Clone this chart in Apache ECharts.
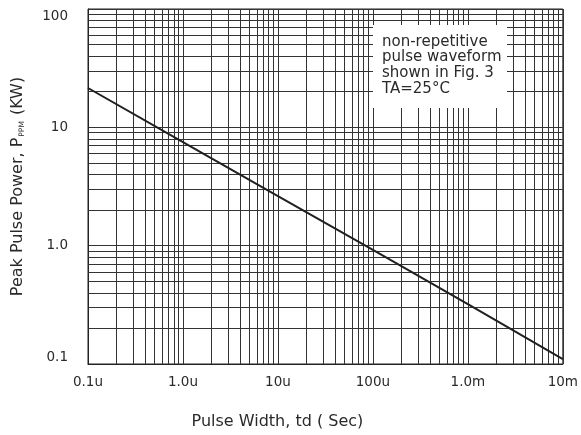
<!DOCTYPE html>
<html>
<head>
<meta charset="utf-8">
<script src="https://cdn.jsdelivr.net/npm/echarts@6/dist/echarts.min.js"></script>
<style>html,body{margin:0;padding:0;background:#fff;}#c{width:581px;height:435px;}</style>
</head>
<body>
<div id="c"></div>
<script>
// Data
const pulseWidth = [1e-7, 1e-6, 1e-5, 1e-4, 1e-3, 1e-2];      // seconds
const peakPower  = [21.5, 7.5, 2.62, 0.92, 0.32, 0.11];         // kW
const xTickLabels = ['0.1u', '1.0u', '10u', '100u', '1.0m', '10m']; // exponents -7..-2
const yTickLabels = ['0.1', '1.0', '10', '100'];                    // exponents -1..2
const noteLines = ['non-repetitive', 'pulse waveform', 'shown in Fig. 3', 'TA=25\u00B0C'];

const X_MIN_EXP = -7, X_MAX_EXP = -2, Y_MIN_EXP = -1, Y_MAX_EXP = 2;
const minorMult = [2, 3, 4, 5, 6, 7, 8, 9];
const xMin = Math.pow(10, X_MIN_EXP), xMax = Math.pow(10, X_MAX_EXP);
const yMin = Math.pow(10, Y_MIN_EXP), yMax = Math.pow(10, Y_MAX_EXP);

const minorGrid = [];
for (let e = X_MIN_EXP; e < X_MAX_EXP; e++) {
  minorMult.forEach(m => {
    const x = m * Math.pow(10, e);
    minorGrid.push({ coords: [[x, yMin], [x, yMax]] });
  });
}
for (let e = Y_MIN_EXP; e < Y_MAX_EXP; e++) {
  minorMult.forEach(m => {
    const y = m * Math.pow(10, e);
    minorGrid.push({ coords: [[xMin, y], [xMax, y]] });
  });
}

const FONT = 'DejaVu Sans';
const TXT = '#2a2a2a';
const chart = echarts.init(document.getElementById('c'), null, { renderer: 'canvas' });
chart.setOption({
  animation: false,
  backgroundColor: '#fff',
  grid: { left: 88, right: 17, top: 9, bottom: 71, show: true, borderColor: '#222', borderWidth: 1, backgroundColor: 'transparent' },
  xAxis: {
    type: 'log', logBase: 10, min: xMin, max: xMax, splitNumber: 5,
    axisLine: { show: true, lineStyle: { color: '#222', width: 1 } },
    axisTick: { show: false },
    splitLine: { show: true, lineStyle: { color: '#333', width: 1 } },
    axisLabel: {
      color: TXT, fontFamily: FONT, fontSize: 13.5, margin: 11,
      formatter: v => xTickLabels[Math.round(Math.log10(v)) - X_MIN_EXP] || ''
    },
    name: 'Pulse Width, td ( Sec)',
    nameLocation: 'middle', nameGap: 50,
    nameTextStyle: { color: TXT, fontFamily: FONT, fontSize: 16, padding: [0, 96, 0, 0] }
  },
  yAxis: {
    type: 'log', logBase: 10, min: yMin, max: yMax, splitNumber: 3,
    axisLine: { show: true, lineStyle: { color: '#222', width: 1 } },
    axisTick: { show: false },
    splitLine: { show: true, lineStyle: { color: '#333', width: 1 } },
    axisLabel: {
      color: TXT, fontFamily: FONT, fontSize: 13.5, margin: 20,
      verticalAlignMinLabel: 'bottom', verticalAlignMaxLabel: 'top',
      formatter: v => yTickLabels[Math.round(Math.log10(v)) - Y_MIN_EXP] || ''
    },
    name: '{m|Peak Pulse Power, P}{s|PPM}{m| (KW)}',
    nameLocation: 'middle', nameGap: 60,
    nameTextStyle: {
      color: TXT, fontFamily: FONT, fontSize: 16,
      rich: {
        m: { color: TXT, fontFamily: FONT, fontSize: 16, lineHeight: 20 },
        s: { color: TXT, fontFamily: FONT, fontSize: 7.5, lineHeight: 20, padding: [9, 1, 0, 1] }
      }
    }
  },
  series: [
    {
      name: 'minor grid', type: 'lines', coordinateSystem: 'cartesian2d',
      z: 1, silent: true, polyline: false,
      lineStyle: { color: '#333', width: 1, opacity: 1 },
      data: minorGrid
    },
    {
      name: 'Peak Pulse Power', type: 'line', z: 5,
      data: pulseWidth.map((x, i) => [x, peakPower[i]]),
      showSymbol: false, smooth: false,
      lineStyle: { color: '#231f20', width: 2 }
    }
  ],
  graphic: [
    {
      type: 'rect', z: 100,
      shape: { x: 373, y: 25, width: 134, height: 83 },
      style: { fill: '#fff' }
    },
    {
      type: 'text', z: 101, x: 382, y: 34,
      style: {
        text: noteLines.join('\n'),
        fill: TXT, font: '15px "DejaVu Sans"', lineHeight: 15.7,
        verticalAlign: 'top', align: 'left'
      }
    }
  ]
});
</script>
</body>
</html>
